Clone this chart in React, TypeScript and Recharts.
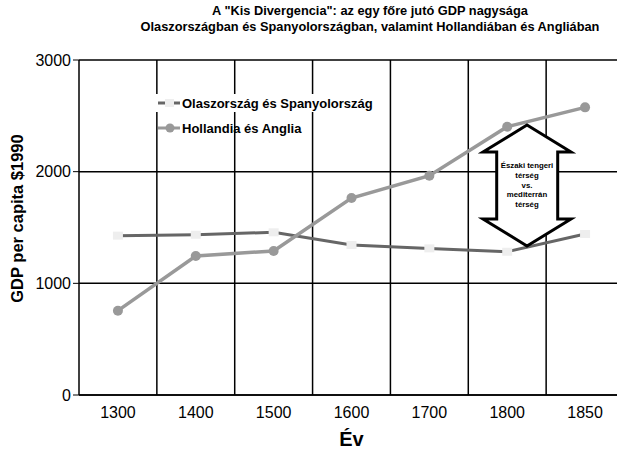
import React from 'react';
import { LineChart, Line, XAxis, YAxis, CartesianGrid, ReferenceLine } from 'recharts';

const years = ['1300', '1400', '1500', '1600', '1700', '1800', '1850'];
const mediterranean = [1427, 1435, 1457, 1343, 1313, 1283, 1442];
const northSea = [755, 1245, 1290, 1764, 1964, 2403, 2576];
const yTicks = [0, 1000, 2000, 3000];
const seriesNames = ['Olaszország és Spanyolország', 'Hollandia és Anglia'];
const titleLines = [
  'A "Kis Divergencia": az egy főre jutó GDP nagysága',
  'Olaszországban és Spanyolországban, valamint Hollandiában és Angliában',
];
const arrowLines = ['Északi tengeri', 'térség', 'vs.', 'mediterrán', 'térség'];

const data = years.map((year, i) => ({
  idx: i,
  year,
  med: mediterranean[i],
  north: northSea[i],
}));

const font = '"Liberation Sans", Arial, sans-serif';

const SquareDot = (props: any) => {
  const { cx, cy } = props;
  if (cx == null || cy == null) return null;
  return <rect x={cx - 5} y={cy - 4} width={10} height={8} fill="#eeeeee" />;
};

export default function App() {
  return (
    <div
      style={{
        position: 'absolute',
        left: 0,
        top: 0,
        width: 617,
        height: 449,
        overflow: 'hidden',
        background: '#fff',
        fontFamily: font,
      }}
    >
      <div
        style={{
          position: 'absolute',
          left: 120,
          width: 500,
          top: 3,
          textAlign: 'center',
          fontWeight: 'bold',
          fontSize: 12.8,
          lineHeight: '16px',
          color: '#000',
        }}
      >
        {titleLines.map((t) => (
          <div key={t}>{t}</div>
        ))}
      </div>

      <LineChart
        width={640}
        height={449}
        data={data}
        margin={{ top: 60, right: 16, bottom: 0, left: 0 }}
        style={{ position: 'absolute', left: 0, top: 0 }}
      >
        <CartesianGrid vertical={false} stroke="#000" strokeWidth={1.5} />
        {years.slice(0, -1).map((y, i) => (
          <ReferenceLine key={y} x={i + 0.5} stroke="#000" strokeWidth={1.5} />
        ))}
        <XAxis
          dataKey="idx"
          type="number"
          domain={[-0.5, years.length - 0.5]}
          ticks={years.map((_, i) => i)}
          tickFormatter={(v: number) => years[v]}
          height={54}
          tickLine={false}
          tickMargin={6}
          axisLine={{ stroke: '#000', strokeWidth: 1.5 }}
          tick={{ fill: '#000', fontSize: 16, fontFamily: font }}
          label={{
            value: 'Év',
            position: 'insideBottom',
            offset: 3,
            fill: '#000',
            fontSize: 20,
            fontWeight: 'bold',
            fontFamily: font,
          }}
        />
        <YAxis
          domain={[0, 3000]}
          ticks={yTicks}
          width={79}
          tickLine={{ stroke: '#000' }}
          axisLine={{ stroke: '#000', strokeWidth: 1.5 }}
          tick={{ fill: '#000', fontSize: 16, fontFamily: font }}
          label={{
            content: (p: any) => {
              const vb = p.viewBox;
              const x = vb.x + 17;
              const y = vb.y + vb.height / 2 - 9;
              return (
                <text
                  x={x}
                  y={y}
                  transform={`rotate(-90 ${x} ${y})`}
                  textAnchor="middle"
                  dominantBaseline="central"
                  fontSize={16.5}
                  fontWeight="bold"
                  fontFamily={font}
                  fill="#000"
                >
                  GDP per capita $1990
                </text>
              );
            },
          }}
        />
        <Line
          dataKey="med"
          name={seriesNames[0]}
          stroke="#666"
          strokeWidth={3}
          dot={<SquareDot />}
          activeDot={false}
          isAnimationActive={false}
        />
        <Line
          dataKey="north"
          name={seriesNames[1]}
          stroke="#999"
          strokeWidth={3.5}
          dot={{ r: 5, fill: '#999', stroke: 'none' }}
          activeDot={false}
          isAnimationActive={false}
        />
      </LineChart>

      {/* legend */}
      <div style={{ position: 'absolute', left: 156, top: 94, fontSize: 13, fontWeight: 'bold', color: '#000' }}>
        <div style={{ display: 'flex', alignItems: 'center', height: 18, background: '#fff' }}>
          <svg width={26} height={10}>
            <line x1={2} y1={5} x2={24} y2={5} stroke="#666" strokeWidth={3} />
            <rect x={9} y={1} width={9} height={8} fill="#eee" />
          </svg>
          <span>{seriesNames[0]}</span>
        </div>
        <div style={{ display: 'flex', alignItems: 'center', height: 18, marginTop: 7 }}>
          <svg width={26} height={12}>
            <line x1={2} y1={6} x2={24} y2={6} stroke="#999" strokeWidth={3} />
            <circle cx={14} cy={6} r={4.5} fill="#999" />
          </svg>
          <span>{seriesNames[1]}</span>
        </div>
      </div>

      {/* double arrow annotation */}
      <svg style={{ position: 'absolute', left: 0, top: 0 }} width={617} height={449}>
        <polygon
          points="527,125 571,152 557.7,152 557.7,219 571,219 527,246 483,219 496.7,219 496.7,152 483,152"
          fill="#fff"
          stroke="#000"
          strokeWidth={3}
          strokeLinejoin="miter"
        />
        {arrowLines.map((t, i) => (
          <text
            key={i}
            x={527}
            y={168 + i * 9.8}
            textAnchor="middle"
            fontSize={7.8}
            fontWeight="bold"
            fontFamily={font}
            fill="#000"
          >
            {t}
          </text>
        ))}
      </svg>
    </div>
  );
}
